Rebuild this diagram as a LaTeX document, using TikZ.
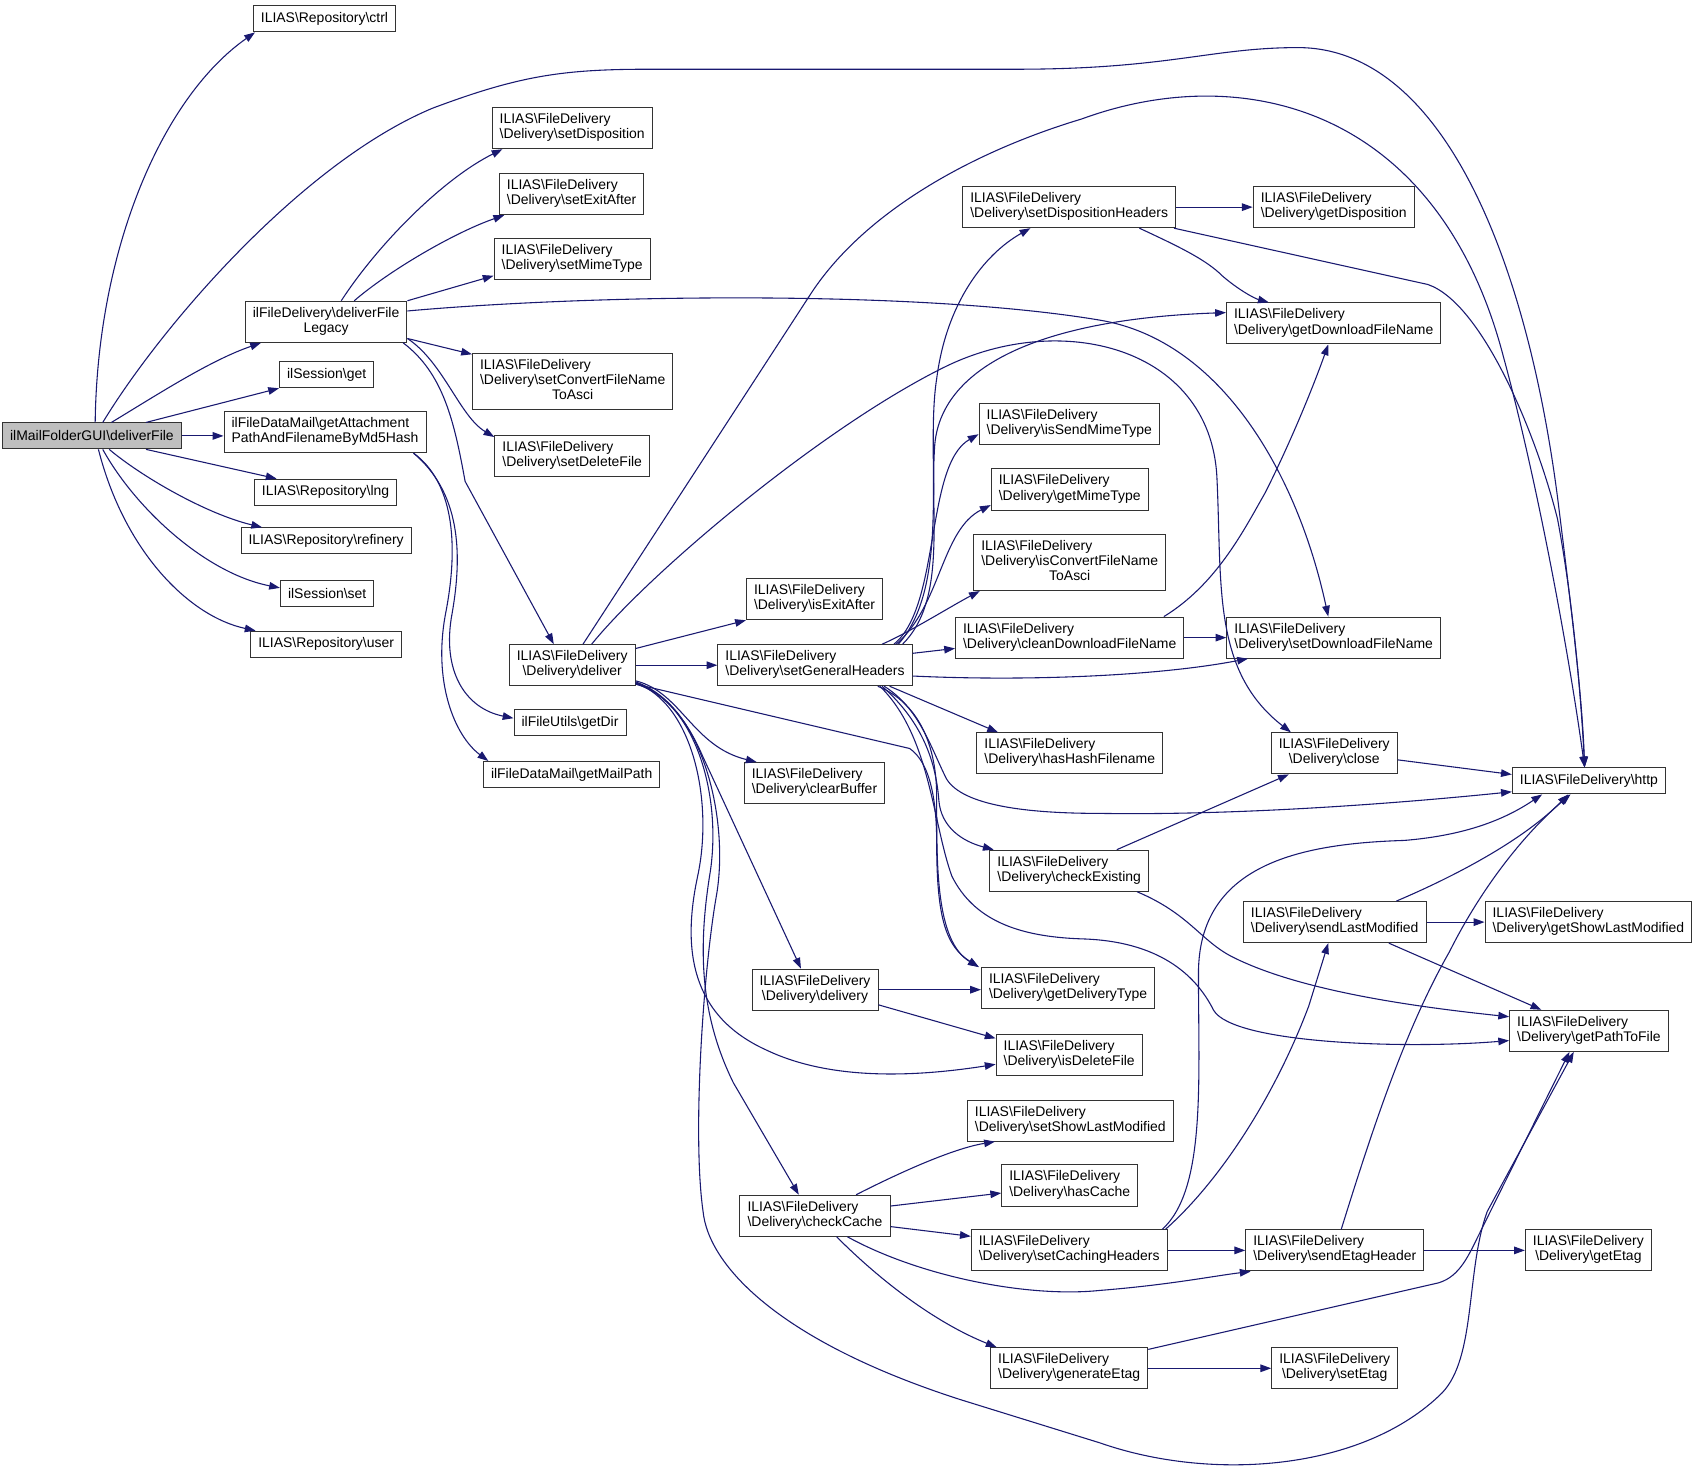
\documentclass[tikz,border=0pt]{standalone}
\usepackage{fontspec}
\setmainfont{Liberation Sans}
\usepackage{tikz}
\usetikzlibrary{arrows.meta}
\definecolor{edgeblue}{RGB}{25,25,112}
\definecolor{boxgray}{RGB}{191,191,191}
\newcommand*{\bs}{\textbackslash}
\newcommand*{\ltwo}[2]{\begin{tabular}{@{}l@{}}#1\\\multicolumn{1}{@{}c@{}}{#2}\end{tabular}}
\newcommand*{\lthree}[3]{\begin{tabular}{@{}l@{}}#1\\#2\\\multicolumn{1}{@{}c@{}}{#3}\end{tabular}}
% two-line label of a Delivery method
\newcommand*{\fd}[1]{\ltwo{ILIAS\bs FileDelivery}{\bs Delivery\bs #1}}

\begin{document}
\begin{tikzpicture}[x=1pt, y=1pt,
  fn/.style={draw=black!80, line width=0.9pt, fill=white, font=\fontsize{12.9}{14}\selectfont,
    inner xsep=7pt, inner ysep=5pt, minimum height=24pt},
  call/.style={draw=edgeblue, line width=1pt, -{Triangle[length=10pt,width=7pt]}}]
\useasboundingbox (0,0) rectangle (1568,-1368);

% functions
\node[fn, fill=boxgray] (main) at (85,-403) {ilMailFolderGUI\bs deliverFile};
\node[fn] (ctrl) at (300,-17.5) {ILIAS\bs Repository\bs ctrl};
\node[fn] (setDisp) at (529,-118.5) {\fd{setDisposition}};
\node[fn] (setExit) at (528.5,-179.5) {\fd{setExitAfter}};
\node[fn] (setMime) at (529,-239.5) {\fd{setMimeType}};
\node[fn] (dfl) at (301.5,-297.5) {\ltwo{ilFileDelivery\bs deliverFile}{Legacy}};
\node[fn] (setConv) at (529.5,-353) {\lthree{ILIAS\bs FileDelivery}{\bs Delivery\bs setConvertFileName}{ToAsci}};
\node[fn] (sget) at (302,-346.5) {ilSession\bs get};
\node[fn] (getAtt) at (300.5,-399.5) {\ltwo{ilFileDataMail\bs getAttachment}{PathAndFilenameByMd5Hash}};
\node[fn] (setDel) at (529,-421.5) {\fd{setDeleteFile}};
\node[fn] (lng) at (301,-455) {ILIAS\bs Repository\bs lng};
\node[fn] (refinery) at (301.5,-500) {ILIAS\bs Repository\bs refinery};
\node[fn] (sset) at (302.5,-548.5) {ilSession\bs set};
\node[fn] (user) at (301.5,-595.5) {ILIAS\bs Repository\bs user};
\node[fn] (deliver) at (529,-615) {\fd{deliver}};
\node[fn] (getDir) at (527,-668) {ilFileUtils\bs getDir};
\node[fn] (mailPath) at (528.5,-716) {ilFileDataMail\bs getMailPath};
\node[fn] (isExit) at (753,-554) {\fd{isExitAfter}};
\node[fn] (genHdr) at (753.5,-615) {\fd{setGeneralHeaders}};
\node[fn] (clearBuf) at (753,-724) {\fd{clearBuffer}};
\node[fn] (delivery) at (753.5,-915) {\fd{delivery}};
\node[fn] (checkCache) at (753.5,-1124) {\fd{checkCache}};
\node[fn] (dispHdr) at (988.5,-191.5) {\fd{setDispositionHeaders}};
\node[fn] (isSendMime) at (988.5,-392) {\fd{isSendMimeType}};
\node[fn] (getMime) at (989,-452.5) {\fd{getMimeType}};
\node[fn] (isConv) at (989,-520) {\lthree{ILIAS\bs FileDelivery}{\bs Delivery\bs isConvertFileName}{ToAsci}};
\node[fn] (cleanDFN) at (989,-589.5) {\fd{cleanDownloadFileName}};
\node[fn] (hasHash) at (989,-696.5) {\fd{hasHashFilename}};
\node[fn] (checkEx) at (988.5,-805) {\fd{checkExisting}};
\node[fn] (getDelType) at (987.5,-913.5) {\fd{getDeliveryType}};
\node[fn] (isDelete) at (988.5,-975) {\fd{isDeleteFile}};
\node[fn] (setShowLM) at (989.5,-1036) {\fd{setShowLastModified}};
\node[fn] (hasCache) at (989,-1096) {\fd{hasCache}};
\node[fn] (cachingHdr) at (988.5,-1156) {\fd{setCachingHeaders}};
\node[fn] (genEtag) at (988.5,-1265) {\fd{generateEtag}};
\node[fn] (getDisp) at (1233,-191.5) {\fd{getDisposition}};
\node[fn] (getDFN) at (1233,-299) {\fd{getDownloadFileName}};
\node[fn] (setDFN) at (1233,-589.5) {\fd{setDownloadFileName}};
\node[fn] (close) at (1233.5,-696.5) {\fd{close}};
\node[fn] (sendLM) at (1234,-852.5) {\fd{sendLastModified}};
\node[fn] (sendEtag) at (1234,-1156) {\fd{sendEtagHeader}};
\node[fn] (setEtag) at (1234,-1265) {\fd{setEtag}};
\node[fn] (http) at (1469,-722) {ILIAS\bs FileDelivery\bs http};
\node[fn] (getShowLM) at (1468.5,-852.5) {\fd{getShowLastModified}};
\node[fn] (getPath) at (1469,-953) {\fd{getPathToFile}};
\node[fn] (getEtag) at (1468.5,-1156) {\fd{getEtag}};

% deliverFile
\draw[call] ([xshift=3pt]main.north) .. controls (90,-230) and (150,-90) .. ([xshift=2pt]ctrl.south west);
\draw[call] ([xshift=10pt]main.north) .. controls (150,-300) and (280,-150) .. (400,-100) .. controls (480,-70) and (520,-64) .. (600,-64) -- (940,-64) .. controls (1080,-64) and (1120,-44) .. (1200,-44) .. controls (1330,-44) and (1410,-230) .. (1440,-460) .. controls (1455,-580) and (1463,-650) .. ([xshift=-4pt]http.north);
\draw[call] ([xshift=18pt]main.north) .. controls (150,-362) and (195,-333) .. ([xshift=15pt]dfl.south west);
\draw[call] ([xshift=50pt]main.north) -- (sget.south west);
\draw[call] (main.east) -- (main.east -| getAtt.west);
\draw[call] ([xshift=50pt]main.south) -- ([xshift=21pt]lng.north west);
\draw[call] ([xshift=16pt]main.south) .. controls (130,-440) and (190,-475) .. ([xshift=20pt]refinery.north west);
\draw[call] ([xshift=10pt]main.south) .. controls (125,-470) and (190,-530) .. ([yshift=5pt]sset.west);
\draw[call] ([xshift=6pt]main.south) .. controls (115,-510) and (175,-570) .. ([xshift=5pt]user.north west);

% deliverFileLegacy
\draw[call] ([xshift=14pt]dfl.north) .. controls (350,-225) and (410,-165) .. ([xshift=10pt]setDisp.south west);
\draw[call] ([xshift=26pt]dfl.north) .. controls (360,-250) and (420,-215) .. ([xshift=5pt]setExit.south west);
\draw[call] (dfl.north east) -- ([yshift=4pt]setMime.south west);
\draw[call] ([yshift=10pt]dfl.east) .. controls (550,-272) and (850,-268) .. (1017,-296) .. controls (1130,-315) and (1200,-440) .. ([xshift=-5pt]setDFN.north);
\draw[call] ([yshift=4pt]dfl.south east) -- ([yshift=-1pt]setConv.north west);
\draw[call] ([yshift=4pt]dfl.south east) .. controls (410,-335) and (425,-385) .. ([yshift=-2pt]setDel.north west);
\draw[call] ([xshift=-4pt]dfl.south east) .. controls (410,-345) and (420,-390) .. (430,-445) -- ([xshift=-17pt]deliver.north);

% getAttachmentPathAndFilenameByMd5Hash
\draw[call] ([xshift=-12pt]getAtt.south east) .. controls (425,-455) and (428,-510) .. (418,-567) .. controls (408,-620) and (430,-655) .. ([yshift=4pt]getDir.west);
\draw[call] ([xshift=-12pt]getAtt.south east) .. controls (418,-445) and (425,-500) .. (412,-567) .. controls (400,-630) and (420,-680) .. ([xshift=5pt]mailPath.north west);

% deliver
\draw[call] ([yshift=-4pt]deliver.north east) -- (isExit.south west);
\draw[call] (deliver) -- (genHdr);
\draw[call] ([xshift=10pt]deliver.north) -- (750,-271) .. controls (800,-195) and (900,-140) .. (1000,-110) .. controls (1150,-55) and (1330,-100) .. (1390,-330) .. controls (1420,-440) and (1450,-600) .. ([xshift=-4pt]http.north);
\draw[call] ([xshift=18pt]deliver.north) .. controls (600,-530) and (760,-395) .. (874,-339) .. controls (980,-287) and (1118,-320) .. (1125,-440) .. controls (1130,-540) and (1120,-620) .. ([xshift=-40pt]close.north);
\draw[call] ([yshift=5pt]deliver.south east) .. controls (630,-640) and (640,-690) .. ([xshift=12pt]clearBuf.north west);
\draw[call] ([yshift=4pt]deliver.south east) .. controls (615,-640) and (635,-665) .. (650,-700) -- ([xshift=-13pt]delivery.north);
\draw[call] ([yshift=2pt]deliver.south east) -- (841,-692) .. controls (860,-705) and (866,-740) .. (866,-780) .. controls (866,-850) and (875,-875) .. ([xshift=-2pt]getDelType.north west);
\draw[call] ([yshift=3pt]deliver.south east) .. controls (640,-650) and (660,-740) .. (645,-810) .. controls (630,-880) and (640,-940) .. (709,-971) .. controls (770,-1000) and (850,-995) .. ([yshift=-9pt]isDelete.west);
\draw[call] ([yshift=3pt]deliver.south east) .. controls (645,-650) and (668,-740) .. (656,-810) .. controls (645,-880) and (648,-940) .. (678,-1001) -- ([xshift=-15pt]checkCache.north);
\draw[call] ([yshift=2pt]deliver.south east) .. controls (650,-650) and (675,-760) .. (662,-830) .. controls (650,-900) and (640,-1050) .. (650,-1120) .. controls (655,-1170) and (720,-1240) .. (888,-1294) -- (1017,-1334) .. controls (1120,-1370) and (1260,-1360) .. (1333,-1288) .. controls (1365,-1255) and (1355,-1175) .. (1375,-1120) -- ([xshift=-14pt]getPath.south);

% setGeneralHeaders
\draw[call] ([xshift=62pt]genHdr.north) .. controls (840,-585) and (880,-560) .. ([xshift=6pt]isConv.south west);
\draw[call] ([xshift=73pt]genHdr.north) .. controls (870,-560) and (855,-430) .. ([yshift=10pt]isSendMime.south west);
\draw[call] ([xshift=75pt]genHdr.north) .. controls (870,-560) and (870,-490) .. ([yshift=5pt]getMime.south west);
\draw[call] ([xshift=77pt]genHdr.north) .. controls (880,-540) and (855,-420) .. (866,-350) .. controls (875,-280) and (910,-235) .. ([xshift=63pt]dispHdr.south west);
\draw[call] ([xshift=81pt]genHdr.north) .. controls (875,-555) and (860,-480) .. (864,-414) .. controls (868,-340) and (960,-295) .. ([yshift=10pt]getDFN.west);
\draw[call] ([yshift=11pt]genHdr.east) -- ([yshift=-10pt]cleanDFN.west);
\draw[call] ([yshift=-10pt]genHdr.east) .. controls (950,-630) and (1070,-625) .. ([xshift=20pt]setDFN.south west);
\draw[call] ([xshift=69pt]genHdr.south) -- ([xshift=20pt]hasHash.north west);
\draw[call] ([xshift=62pt]genHdr.south) .. controls (850,-665) and (865,-700) .. (868,-740) .. controls (870,-765) and (890,-778) .. ([xshift=4pt]checkEx.north west);
\draw[call] ([xshift=58pt]genHdr.south) .. controls (850,-650) and (866,-690) .. (866,-737) .. controls (866,-800) and (865,-870) .. ([xshift=-2pt]getDelType.north west);
\draw[call] ([xshift=64pt]genHdr.south) .. controls (850,-655) and (860,-690) .. (875,-720) .. controls (890,-745) and (950,-752) .. (1017,-752) .. controls (1150,-754) and (1300,-742) .. ([yshift=-10pt]http.west);
\draw[call] ([xshift=60pt]genHdr.south) .. controls (860,-680) and (862,-760) .. (880,-810) .. controls (900,-850) and (940,-866) .. (1000,-868) .. controls (1070,-870) and (1105,-900) .. (1122,-934) .. controls (1140,-965) and (1300,-970) .. ([yshift=-9pt]getPath.west);

% delivery
\draw[call] (delivery.east) -- (delivery.east -| getDelType.west);
\draw[call] ([yshift=-14pt]delivery.east) -- ([yshift=15pt]isDelete.west);

% checkCache
\draw[call] ([xshift=38pt]checkCache.north) .. controls (830,-1085) and (880,-1062) .. ([xshift=26pt]setShowLM.south west);
\draw[call] ([yshift=9pt]checkCache.east) -- ([yshift=-7pt]hasCache.west);
\draw[call] ([yshift=-10pt]checkCache.east) -- ([yshift=13pt]cachingHdr.west);
\draw[call] ([xshift=30pt]checkCache.south) .. controls (850,-1180) and (950,-1200) .. (1017,-1193) .. controls (1080,-1188) and (1120,-1180) .. ([xshift=5pt]sendEtag.south west);
\draw[call] ([xshift=20pt]checkCache.south) .. controls (820,-1190) and (870,-1225) .. ([xshift=6pt]genEtag.north west);

% setCachingHeaders
\draw[call] (cachingHdr) -- (sendEtag);
\draw[call] ([xshift=-2pt]cachingHdr.north east) .. controls (1130,-1090) and (1180,-1010) .. (1210,-930) -- ([xshift=-6pt]sendLM.south);
\draw[call] ([xshift=-5pt]cachingHdr.north east) .. controls (1115,-1100) and (1108,-1000) .. (1108,-900) .. controls (1108,-800) and (1200,-780) .. (1298,-777) .. controls (1360,-772) and (1395,-755) .. ([xshift=28pt]http.south west);

% sendLastModified
\draw[call] (sendLM) -- (getShowLM);
\draw[call] ([xshift=57pt]sendLM.north) .. controls (1350,-808) and (1410,-775) .. ([xshift=-19pt]http.south);
\draw[call] ([xshift=50pt]sendLM.south) -- ([xshift=-44pt]getPath.north);

% sendEtagHeader
\draw[call] (sendEtag) -- (getEtag);
\draw[call] ([xshift=6pt]sendEtag.north) .. controls (1270,-1040) and (1300,-950) .. (1340,-880) .. controls (1370,-820) and (1410,-770) .. ([xshift=-17pt]http.south);

% generateEtag
\draw[call] (genEtag) -- (setEtag);
\draw[call] ([yshift=-2pt]genEtag.north east) -- (1330,-1186) .. controls (1350,-1180) and (1358,-1160) .. (1368,-1140) -- ([xshift=-18pt]getPath.south);

% checkExisting
\draw[call] ([xshift=44pt]checkEx.north) -- ([xshift=-42pt]close.south);
\draw[call] ([xshift=-11pt]checkEx.south east) .. controls (1100,-845) and (1110,-870) .. (1140,-885) .. controls (1200,-915) and (1300,-930) .. ([yshift=13pt]getPath.west);

% close
\draw[call] ([yshift=-6pt]close.east) -- ([yshift=6pt]http.west);

% cleanDownloadFileName
\draw[call] (cleanDFN) -- (setDFN);
\draw[call] ([xshift=-19pt]cleanDFN.north east) .. controls (1125,-540) and (1150,-490) .. (1170,-455) .. controls (1195,-405) and (1215,-355) .. ([xshift=-5pt]getDFN.south);

% setDispositionHeaders
\draw[call] (dispHdr) -- (getDisp);
\draw[call] ([xshift=-34pt]dispHdr.south east) .. controls (1090,-228) and (1115,-240) .. (1130,-255) .. controls (1145,-268) and (1160,-276) .. ([xshift=-60pt]getDFN.north);
\draw[call] ([xshift=-2pt]dispHdr.south east) -- (1320,-263) .. controls (1370,-280) and (1420,-400) .. (1440,-480) .. controls (1455,-560) and (1462,-650) .. ([xshift=-4pt]http.north);
\end{tikzpicture}
\end{document}
